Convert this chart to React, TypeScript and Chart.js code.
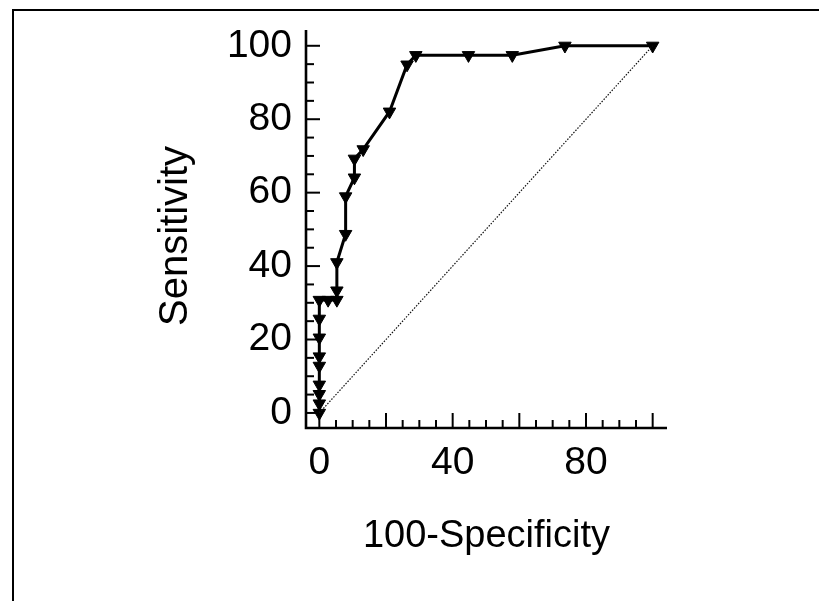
import React, { useEffect, useRef } from "react";
import { Chart, registerables } from "chart.js";

Chart.register(...registerables);

// ROC curve points: 100-Specificity (x) and Sensitivity (y)
const fprValues = [0, 0, 0, 0, 0, 0, 0, 0, 0, 2.63, 5.26, 5.26, 5.26, 7.89, 7.89, 10.53, 10.53, 13.16, 21.05, 26.32, 28.95, 44.74, 57.89, 73.68, 100];
const sensValues = [0, 2.56, 5.13, 7.69, 12.82, 15.38, 20.51, 25.64, 30.77, 30.77, 30.77, 33.33, 41.03, 48.72, 58.97, 64.1, 69.23, 71.79, 82.05, 94.87, 97.44, 97.44, 97.44, 100, 100];

// Reference (chance) diagonal
const diagX = [0, 100];
const diagY = [0, 100];

// Tick labels
const xTickLabels = [0, 40, 80];
const yTickLabels = [0, 20, 40, 60, 80, 100];
const xMajorTicks = [0, 20, 40, 60, 80, 100];
const yMajorTicks = [0, 20, 40, 60, 80, 100];
const minorStep = 5;

const xTitle = "100-Specificity";
const yTitle = "Sensitivity";

const FONT = "'Liberation Sans', Arial, sans-serif";

const axisPlugin = {
  id: "insideAxes",
  beforeDatasetsDraw(chart: any) {
    const { ctx, chartArea, scales } = chart;
    const xs = scales.x;
    const ys = scales.y;
    ctx.save();
    ctx.strokeStyle = "#000";
    ctx.lineCap = "butt";
    ctx.lineWidth = 2.6;
    ctx.beginPath();
    ctx.moveTo(chartArea.left, chartArea.top);
    ctx.lineTo(chartArea.left, chartArea.bottom);
    ctx.lineTo(chartArea.right, chartArea.bottom);
    ctx.stroke();
    ctx.lineWidth = 2;
    for (let v = 0; v <= 100; v += minorStep) {
      const px = xs.getPixelForValue(v);
      const len = xMajorTicks.includes(v) ? 15 : 8;
      ctx.beginPath();
      ctx.moveTo(px, chartArea.bottom);
      ctx.lineTo(px, chartArea.bottom - len);
      ctx.stroke();
    }
    for (let v = 0; v <= 100; v += minorStep) {
      const py = ys.getPixelForValue(v);
      const len = yMajorTicks.includes(v) ? 14 : 8;
      ctx.beginPath();
      ctx.moveTo(chartArea.left, py);
      ctx.lineTo(chartArea.left + len, py);
      ctx.stroke();
    }
    ctx.restore();
  },
  afterDraw(chart: any) {
    const { ctx, chartArea } = chart;
    ctx.save();
    ctx.fillStyle = "#000";
    ctx.font = `40px ${FONT}`;
    ctx.textAlign = "center";
    ctx.textBaseline = "middle";
    ctx.translate(chartArea.left - 130, (chartArea.top + chartArea.bottom) / 2 + 7);
    ctx.rotate(-Math.PI / 2);
    ctx.fillText(yTitle, 0, 0);
    ctx.restore();
  },
};

export default function App() {
  const canvasRef = useRef<HTMLCanvasElement | null>(null);

  useEffect(() => {
    if (!canvasRef.current) return;
    const rocData = fprValues.map((x, i) => ({ x, y: sensValues[i] }));
    const diagData = diagX.map((x, i) => ({ x, y: diagY[i] }));
    const chart = new Chart(canvasRef.current, {
      type: "scatter",
      data: {
        datasets: [
          {
            data: diagData,
            showLine: true,
            borderColor: "#111",
            borderWidth: 1.2,
            borderDash: [1.5, 1.5],
            pointRadius: 0,
            clip: false,
          },
          {
            data: rocData,
            showLine: true,
            borderColor: "#000",
            borderWidth: 3,
            pointStyle: "triangle",
            rotation: 180,
            pointRadius: 7.2,
            pointBackgroundColor: "#000",
            pointBorderColor: "#000",
            pointBorderWidth: 1,
            clip: false,
          },
        ],
      } as any,
      options: {
        animation: false,
        responsive: true,
        maintainAspectRatio: false,
        layout: { padding: { left: 0, top: 30, right: 152, bottom: 0 } },
        plugins: {
          legend: { display: false },
          tooltip: { enabled: false },
        },
        scales: {
          x: {
            type: "linear",
            min: -4,
            max: 104.3,
            grid: { display: false, drawTicks: false },
            border: { display: false },
            afterBuildTicks: (scale: any) => {
              scale.ticks = xTickLabels.map((v) => ({ value: v }));
            },
            afterFit: (scale: any) => {
              scale.height = 173;
            },
            ticks: {
              padding: 12,
              color: "#000",
              font: { family: FONT, size: 39 },
              callback: (v: any) => String(v),
            },
            title: {
              display: true,
              text: xTitle,
              color: "#000",
              font: { family: FONT, size: 38 },
              padding: { top: 0, bottom: 42 },
            },
          },
          y: {
            type: "linear",
            min: -4.1,
            max: 104.3,
            grid: { display: false, drawTicks: true, tickLength: 14 },
            border: { display: false },
            afterBuildTicks: (scale: any) => {
              scale.ticks = yTickLabels.map((v) => ({ value: v }));
            },
            afterFit: (scale: any) => {
              scale.width = 306;
            },
            ticks: {
              padding: 0,
              color: "#000",
              font: { family: FONT, size: 39 },
              callback: (v: any) => String(v),
            },
            title: { display: false },
          },
        },
      } as any,
      plugins: [axisPlugin],
    });
    return () => chart.destroy();
  }, []);

  return (
    <div style={{ position: "fixed", left: 0, top: 0, width: 819, height: 601, background: "#fff" }}>
      <div
        style={{
          position: "absolute",
          left: 12,
          top: 9,
          width: 807,
          height: 600,
          borderTop: "2px solid #000",
          borderLeft: "2px solid #000",
          boxSizing: "border-box",
        }}
      />
      <div style={{ position: "absolute", left: 0, top: 0, width: 819, height: 601 }}>
        <canvas ref={canvasRef} />
      </div>
    </div>
  );
}
